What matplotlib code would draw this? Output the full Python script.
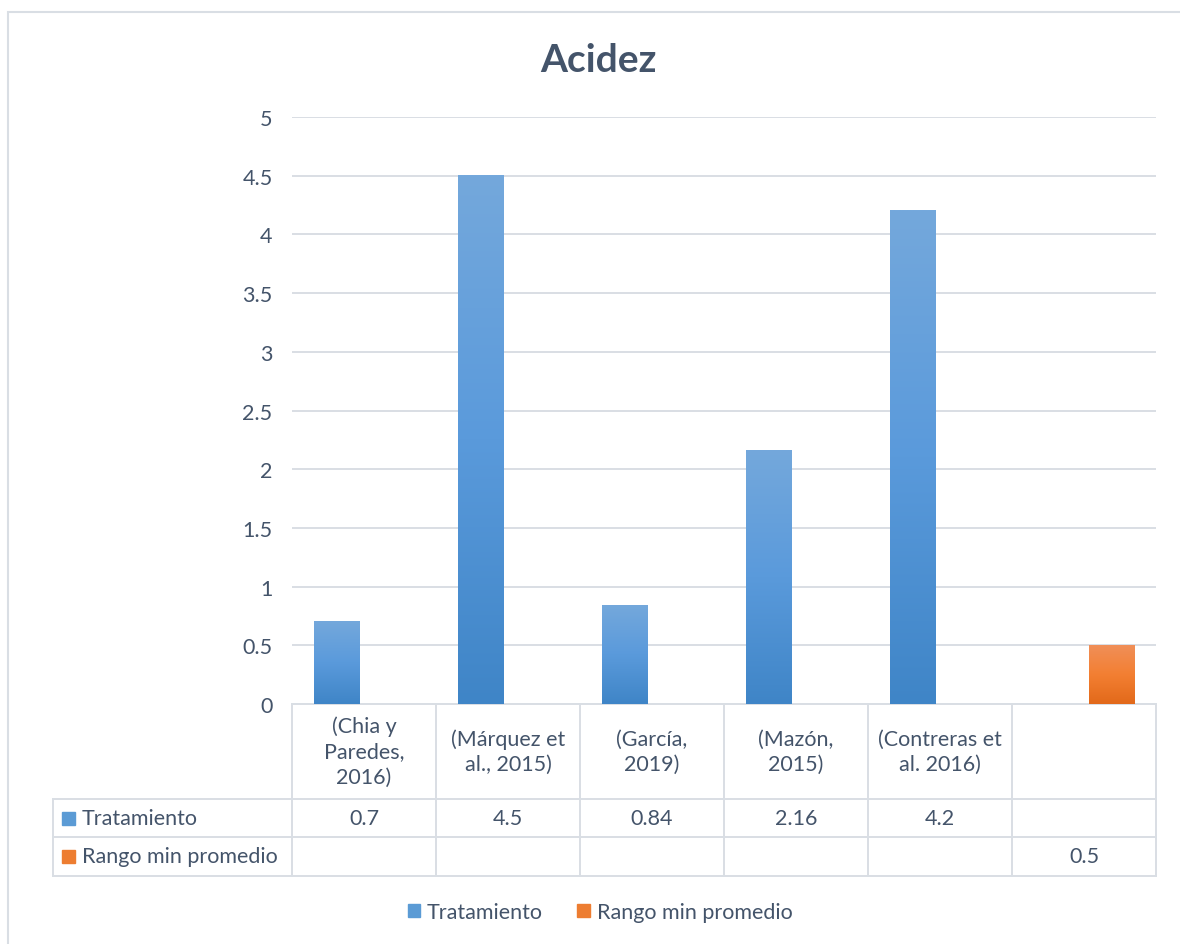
import numpy as np
import matplotlib.pyplot as plt
from matplotlib.colors import LinearSegmentedColormap
from matplotlib.patches import Rectangle, Patch
from matplotlib.lines import Line2D
from matplotlib.transforms import blended_transform_factory

plt.rcParams['font.family'] = ['Lato', 'DejaVu Sans']

categories = ["(Chia y\nParedes,\n2016)", "(Márquez et\nal., 2015)", "(García,\n2019)",
              "(Mazón,\n2015)", "(Contreras et\nal. 2016)", ""]
tratamiento = [0.7, 4.5, 0.84, 2.16, 4.2, None]
rango_min = [None, None, None, None, None, 0.5]
series_names = ["Tratamiento", "Rango min promedio"]
yticks = [0, 0.5, 1, 1.5, 2, 2.5, 3, 3.5, 4, 4.5, 5]
ytick_labels = ["0", "0.5", "1", "1.5", "2", "2.5", "3", "3.5", "4", "4.5", "5"]

TEXT = '#44546A'
GRID = '#D9DEE4'
BLUE = '#5B9BD5'
ORANGE = '#ED7D31'
FS = 15.5
blue_cmap = LinearSegmentedColormap.from_list('b', ['#3F85C7', '#5A9ADB', '#74A8DC'])
orange_cmap = LinearSegmentedColormap.from_list('o', ['#E2691A', '#F37F32', '#F08F58'])

W, H = 1180, 945
fig = plt.figure(figsize=(W / 100, H / 100), dpi=100)

def fx(x):
    return x / W

def fy(y):
    return 1 - y / H

# outer chart border
fig.patches.append(Rectangle((fx(8), fy(960)), fx(1200 - 8), fy(13) - fy(960),
                             transform=fig.transFigure, fill=False,
                             edgecolor=GRID, lw=1.5))

ax = fig.add_axes([fx(292), fy(705), fx(1156 - 292), (705 - 118) / H])
ax.set_xlim(-0.5, 5.5)
ax.set_ylim(0, 5)

x = np.arange(len(categories))
bar_w = 0.313
offsets = [-0.19, 0.19]
grad = np.linspace(0, 1, 256).reshape(-1, 1)

for vals, off, cmap in [(tratamiento, offsets[0], blue_cmap), (rango_min, offsets[1], orange_cmap)]:
    for xi, v in zip(x, vals):
        if v is None:
            continue
        x0 = xi + off - bar_w / 2
        ax.imshow(grad, extent=[x0, x0 + bar_w, 0, v], origin='lower', aspect='auto',
                  cmap=cmap, zorder=3, interpolation='bilinear')
ax.set_xlim(-0.5, 5.5)
ax.set_ylim(0, 5)

ax.set_yticks(yticks)
ax.set_yticklabels(ytick_labels)
ax.set_xticks([])
ax.tick_params(axis='y', length=0, pad=14, labelsize=FS, labelcolor=TEXT)
ax.yaxis.grid(True, color=GRID, lw=1.4)
ax.set_axisbelow(True)
for s in ax.spines.values():
    s.set_visible(False)

fig.text(fx(598), fy(61), "Acidez", ha='center', va='center', fontsize=28,
         fontweight='bold', color=TEXT)

# data table under the plot
trans = blended_transform_factory(ax.transData, fig.transFigure)
for k in range(len(categories) + 1):
    ax.add_line(Line2D([k - 0.5, k - 0.5], [fy(705), fy(877)], transform=trans,
                       color=GRID, lw=1.4, clip_on=False))
ax.add_line(Line2D([-0.5, 5.5], [fy(705), fy(705)], transform=trans,
                   color=GRID, lw=1.4, clip_on=False))
right = fx(1156)
for yy in [800, 838, 877]:
    fig.add_artist(Line2D([fx(53), right], [fy(yy), fy(yy)], transform=fig.transFigure,
                          color=GRID, lw=1.4))
fig.add_artist(Line2D([fx(53), fx(53)], [fy(800), fy(877)], transform=fig.transFigure,
                      color=GRID, lw=1.4))

for xi, lab in zip(x, categories):
    ax.text(xi, fy(752), lab, transform=trans, ha='center', va='center',
            fontsize=FS, color=TEXT, linespacing=1.33)

row_y = [819, 857.5]
for vals, ry in zip([tratamiento, rango_min], row_y):
    for xi, v in zip(x, vals):
        if v is None:
            continue
        ax.text(xi, fy(ry), f"{v:g}", transform=trans, ha='center', va='center',
                fontsize=FS, color=TEXT)

for name, ry, col in zip(series_names, row_y, [BLUE, ORANGE]):
    fig.patches.append(Rectangle((fx(62), fy(ry + 6.5)), fx(13), 13 / H,
                                 transform=fig.transFigure, color=col))
    fig.text(fx(82), fy(ry), name, ha='left', va='center', fontsize=FS, color=TEXT)

handles = [Patch(color=BLUE), Patch(color=ORANGE)]
fig.legend(handles, series_names, loc='center', bbox_to_anchor=(fx(600), fy(913)),
           ncol=2, frameon=False, fontsize=FS, labelcolor=TEXT, handlelength=0.6,
           handleheight=0.6, handletextpad=0.3, columnspacing=1.6)

fig.savefig('out.png', dpi=100)
